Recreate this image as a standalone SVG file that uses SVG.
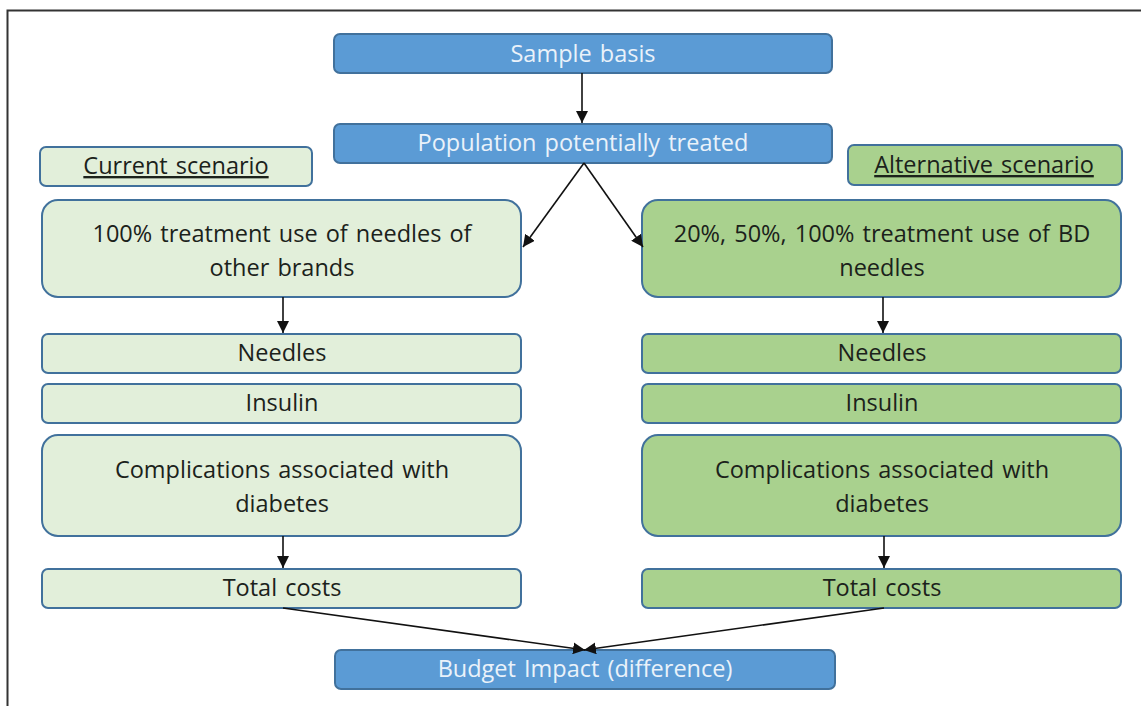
<svg xmlns="http://www.w3.org/2000/svg" width="1141" height="706" viewBox="0 0 1141 706">
  <style>
    .blue { fill: #5B9BD5; stroke: #41719C; stroke-width: 2; }
    .lite { fill: #E2EFDA; stroke: #41719C; stroke-width: 2; }
    .grn { fill: #A9D18E; stroke: #41719C; stroke-width: 2; }
    text { font-family: "Open Sans", "Noto Sans", "DejaVu Sans", sans-serif; font-size: 23.5px; text-anchor: middle; word-spacing: 2px; }
    .wt { fill: #EAF2FA; }
    .dk { fill: #1B221B; }
    .ul { text-decoration: underline; }
    .conn line { stroke: #111; stroke-width: 1.6; }
  </style>
  <defs>
    <marker id="arr" viewBox="0 0 10 10" refX="10" refY="5" markerWidth="12" markerHeight="12" markerUnits="userSpaceOnUse" orient="auto">
      <path d="M0,0 L10,5 L0,10 z" fill="#111"/>
    </marker>
  </defs>

  <rect width="1141" height="706" fill="#fff"/>
  <!-- frame: top and left rule -->
  <path d="M7.5,706 V10.5 H1141" fill="none" stroke="#333" stroke-width="2"/>

  <g id="sample">
    <rect class="blue" x="334" y="34" width="498" height="39" rx="6"/>
    <text class="wt" x="583" y="62">Sample basis</text>
  </g>
  <g id="population">
    <rect class="blue" x="334" y="124" width="498" height="39" rx="6"/>
    <text class="wt" x="583" y="151">Population potentially treated</text>
  </g>
  <g id="current-label">
    <rect class="lite" x="40" y="147" width="272" height="39" rx="6"/>
    <text class="dk ul" x="176" y="174">Current scenario</text>
  </g>
  <g id="alt-label">
    <rect class="grn" x="848" y="145" width="274" height="40" rx="6"/>
    <text class="dk ul" x="984" y="173">Alternative scenario</text>
  </g>

  <g id="current-use">
    <rect class="lite" x="42" y="200" width="479" height="97" rx="16"/>
    <text class="dk" x="282" y="242">100% treatment use of needles of</text>
    <text class="dk" x="282" y="276">other brands</text>
  </g>
  <g id="alt-use">
    <rect class="grn" x="642" y="200" width="479" height="97" rx="16"/>
    <text class="dk" x="882" y="242">20%, 50%, 100% treatment use of BD</text>
    <text class="dk" x="882" y="276">needles</text>
  </g>

  <g id="current-needles">
    <rect class="lite" x="42" y="334" width="479" height="39" rx="6"/>
    <text class="dk" x="282" y="361">Needles</text>
  </g>
  <g id="alt-needles">
    <rect class="grn" x="642" y="334" width="479" height="39" rx="6"/>
    <text class="dk" x="882" y="361">Needles</text>
  </g>
  <g id="current-insulin">
    <rect class="lite" x="42" y="384" width="479" height="39" rx="6"/>
    <text class="dk" x="282" y="411">Insulin</text>
  </g>
  <g id="alt-insulin">
    <rect class="grn" x="642" y="384" width="479" height="39" rx="6"/>
    <text class="dk" x="882" y="411">Insulin</text>
  </g>

  <g id="current-compl">
    <rect class="lite" x="42" y="435" width="479" height="101" rx="16"/>
    <text class="dk" x="282" y="478">Complications associated with</text>
    <text class="dk" x="282" y="512">diabetes</text>
  </g>
  <g id="alt-compl">
    <rect class="grn" x="642" y="435" width="479" height="101" rx="16"/>
    <text class="dk" x="882" y="478">Complications associated with</text>
    <text class="dk" x="882" y="512">diabetes</text>
  </g>

  <g id="current-total">
    <rect class="lite" x="42" y="569" width="479" height="39" rx="6"/>
    <text class="dk" x="282" y="596">Total costs</text>
  </g>
  <g id="alt-total">
    <rect class="grn" x="642" y="569" width="479" height="39" rx="6"/>
    <text class="dk" x="882" y="596">Total costs</text>
  </g>

  <g id="budget">
    <rect class="blue" x="335" y="650" width="500" height="39" rx="6"/>
    <text class="wt" x="585" y="677">Budget Impact (difference)</text>
  </g>

  <g class="conn">
    <line x1="582" y1="73" x2="582" y2="123" marker-end="url(#arr)"/>
    <line x1="584" y1="163" x2="523" y2="247" marker-end="url(#arr)"/>
    <line x1="584" y1="163" x2="643" y2="247" marker-end="url(#arr)"/>
    <line x1="283" y1="297" x2="283" y2="333" marker-end="url(#arr)"/>
    <line x1="883" y1="297" x2="883" y2="333" marker-end="url(#arr)"/>
    <line x1="283" y1="536" x2="283" y2="568" marker-end="url(#arr)"/>
    <line x1="884" y1="536" x2="884" y2="568" marker-end="url(#arr)"/>
    <line x1="283" y1="608" x2="585" y2="650" marker-end="url(#arr)"/>
    <line x1="884" y1="608" x2="584" y2="650" marker-end="url(#arr)"/>
  </g>
</svg>
